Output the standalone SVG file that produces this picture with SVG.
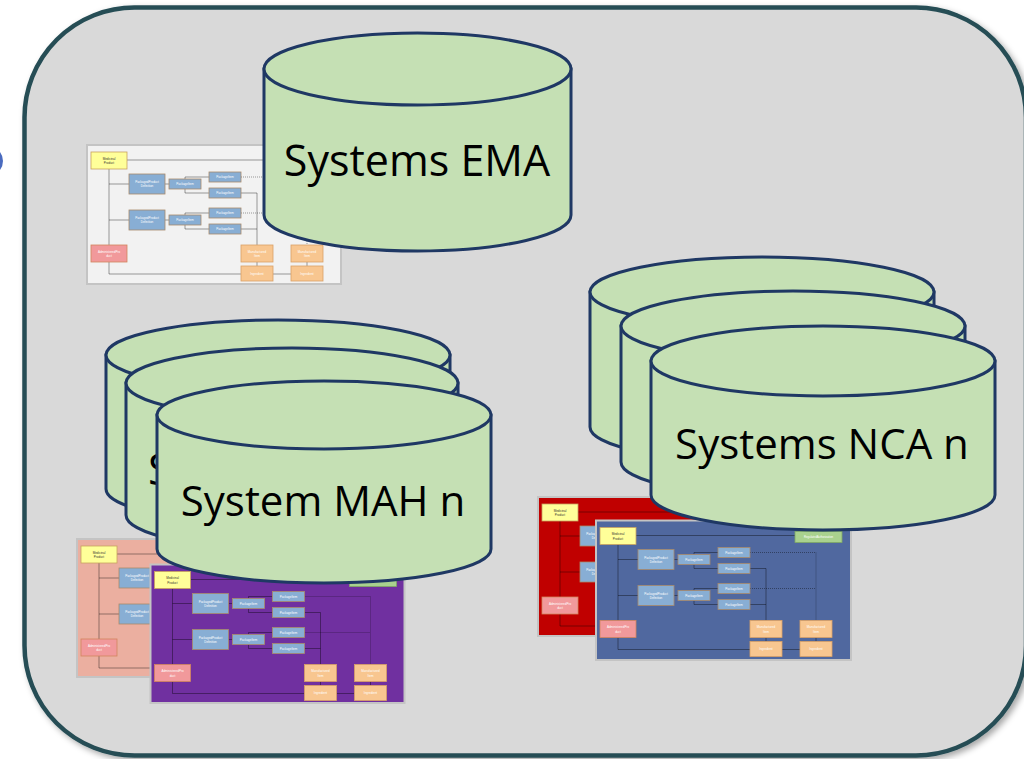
<svg xmlns="http://www.w3.org/2000/svg" xmlns:xlink="http://www.w3.org/1999/xlink" width="1024" height="759" viewBox="0 0 1024 759">
<style>
.ln{fill:none;stroke:#000;stroke-opacity:.42;stroke-width:.9}
.dt{fill:none;stroke:#000;stroke-opacity:.42;stroke-width:.9;stroke-dasharray:1 1}
.by{fill:#ffff99;stroke:#c9a25f;stroke-width:.8}
.bb{fill:#88aed4;stroke:#a88a6c;stroke-width:.8}
.bp{fill:#f1999b;stroke:#d3845c;stroke-width:.8}
.bo{fill:#f8c690;stroke:#d9a066;stroke-width:.8}
.bg{fill:#a9d18e;stroke:#7fa865;stroke-width:.8}
.tw{font-family:"Liberation Sans",Arial,sans-serif;font-size:3px;fill:#fff;text-anchor:middle}
.td{font-family:"Liberation Sans",Arial,sans-serif;font-size:3px;fill:#333;text-anchor:middle}
.frame{stroke:#c4c4c4;stroke-width:2}
.cyl{fill:#c5e0b4;stroke:#1f3864;stroke-width:3}
.big{font-family:"Open Sans",sans-serif;font-size:42px;fill:#000;text-anchor:middle}
</style>
<defs>
<filter id="sh" x="-5%" y="-5%" width="110%" height="110%">
<feDropShadow dx="3" dy="3" stdDeviation="3" flood-color="#000" flood-opacity="0.35"/>
</filter>
<g id="mini">
<path class="ln" d="M40,15 H199 M22,24 V100 M22,39 H42 M22,75 H42 M78,39 H82 M78,75 H82 M98,34 V32 H122 M98,44 V48 H122 M98,70 V68 H122 M98,80 V84 H122 M154,48 H170 V100 M154,84 H170 M170,117 V121 M220,117 V121 M22,117 V129 H154 M186,129 H204"/>
<path class="dt" d="M154,32 H220 V100 M154,68 H220"/>
<rect class="by" x="4" y="7" width="36" height="17"/>
<text class="td" x="22" y="14.5">Medicinal</text><text class="td" x="22" y="19">Product</text>
<rect class="bg" x="199" y="11" width="47" height="11"/>
<text class="tw" x="222.5" y="17.5" style="font-size:2.8px">RegulatedAuthorization</text>
<rect class="bb" x="42" y="29" width="36" height="20"/>
<text class="tw" x="60" y="38">PackagedProduct</text><text class="tw" x="60" y="42">Definition</text>
<rect class="bb" x="82" y="34" width="32" height="10"/><text class="tw" x="98" y="40">PackageItem</text>
<rect class="bb" x="122" y="27" width="32" height="10"/><text class="tw" x="138" y="33">PackageItem</text>
<rect class="bb" x="122" y="43" width="32" height="10"/><text class="tw" x="138" y="49">PackageItem</text>
<rect class="bb" x="42" y="65" width="36" height="20"/>
<text class="tw" x="60" y="74">PackagedProduct</text><text class="tw" x="60" y="78">Definition</text>
<rect class="bb" x="82" y="70" width="32" height="10"/><text class="tw" x="98" y="76">PackageItem</text>
<rect class="bb" x="122" y="63" width="32" height="10"/><text class="tw" x="138" y="69">PackageItem</text>
<rect class="bb" x="122" y="79" width="32" height="10"/><text class="tw" x="138" y="85">PackageItem</text>
<rect class="bp" x="4" y="100" width="36" height="17"/>
<text class="tw" x="22" y="107.5">AdministeredPro</text><text class="tw" x="22" y="112">duct</text>
<rect class="bo" x="154" y="100" width="32" height="17"/>
<text class="tw" x="170" y="107.5">Manufactured</text><text class="tw" x="170" y="112">Item</text>
<rect class="bo" x="204" y="100" width="32" height="17"/>
<text class="tw" x="220" y="107.5">Manufactured</text><text class="tw" x="220" y="112">Item</text>
<rect class="bo" x="154" y="121" width="32" height="15"/><text class="tw" x="170" y="129.5">Ingredient</text>
<rect class="bo" x="204" y="121" width="32" height="15"/><text class="tw" x="220" y="129.5">Ingredient</text>
</g>
</defs>

<g id="container">
<rect x="24.5" y="7.5" width="1001.5" height="748" rx="110" ry="110" fill="#d9d9d9" stroke="#264d55" stroke-width="4.5" filter="url(#sh)"/>
</g>
<g id="edge-node">
<circle cx="-12" cy="161" r="15" fill="#4a6bbf"/>
</g>

<g id="thumb-ema" transform="translate(87,145)">
<rect class="frame" width="254" height="139" fill="#f2f2f2"/><use href="#mini" xlink:href="#mini"/>
</g>
<g id="cyl-ema">
<path class="cyl" d="M264,69 V215 A153.5,36 0 0 0 571,215 V69 Z"/>
<ellipse class="cyl" cx="417.5" cy="69" rx="153.5" ry="36"/>
<text class="big" x="417" y="176" style="font-size:43px">Systems EMA</text>
</g>

<g id="thumb-mah-1" transform="translate(77,539)">
<rect class="frame" width="254" height="138" fill="#ebafa0"/><use href="#mini" xlink:href="#mini"/>
</g>
<g id="thumb-mah-n" transform="translate(150.5,564.5)">
<rect class="frame" width="254" height="138.5" fill="#7030a0"/><use href="#mini" xlink:href="#mini"/>
</g>
<g id="cyl-mah-1">
<path class="cyl" d="M106,355 V489 A172,35 0 0 0 450,489 V355 Z"/>
<ellipse class="cyl" cx="278" cy="355" rx="172" ry="35"/>
</g>
<g id="cyl-mah-2">
<path class="cyl" d="M126,383 V515 A166,35 0 0 0 458,515 V383 Z"/>
<ellipse class="cyl" cx="292" cy="383" rx="166" ry="35"/>
<text x="148" y="485" style="font-family:'Open Sans',sans-serif;font-size:43px;fill:#000">S</text>
</g>
<g id="cyl-mah-n">
<path class="cyl" d="M157,415 V549 A167,34 0 0 0 491,549 V415 Z"/>
<ellipse class="cyl" cx="324" cy="415" rx="167" ry="34"/>
<text class="big" x="323" y="516">System MAH n</text>
</g>

<g id="thumb-nca-1" transform="translate(538,497)">
<rect class="frame" width="254" height="139" fill="#c00000"/><use href="#mini" xlink:href="#mini"/>
</g>
<g id="thumb-nca-n" transform="translate(596,520.5)">
<rect class="frame" width="255" height="139.5" fill="#50689f"/><use href="#mini" xlink:href="#mini"/>
</g>
<g id="cyl-nca-1">
<path class="cyl" d="M590,292 V427 A172,35 0 0 0 934,427 V292 Z"/>
<ellipse class="cyl" cx="762" cy="292" rx="172" ry="35"/>
</g>
<g id="cyl-nca-2">
<path class="cyl" d="M621,326 V462 A172,35 0 0 0 965,462 V326 Z"/>
<ellipse class="cyl" cx="793" cy="326" rx="172" ry="35"/>
</g>
<g id="cyl-nca-n">
<path class="cyl" d="M651,361 V495 A172,35 0 0 0 995,495 V361 Z"/>
<ellipse class="cyl" cx="823" cy="361" rx="172" ry="35"/>
<text class="big" x="822" y="459">Systems NCA n</text>
</g>
<g id="connectors"/>
</svg>
